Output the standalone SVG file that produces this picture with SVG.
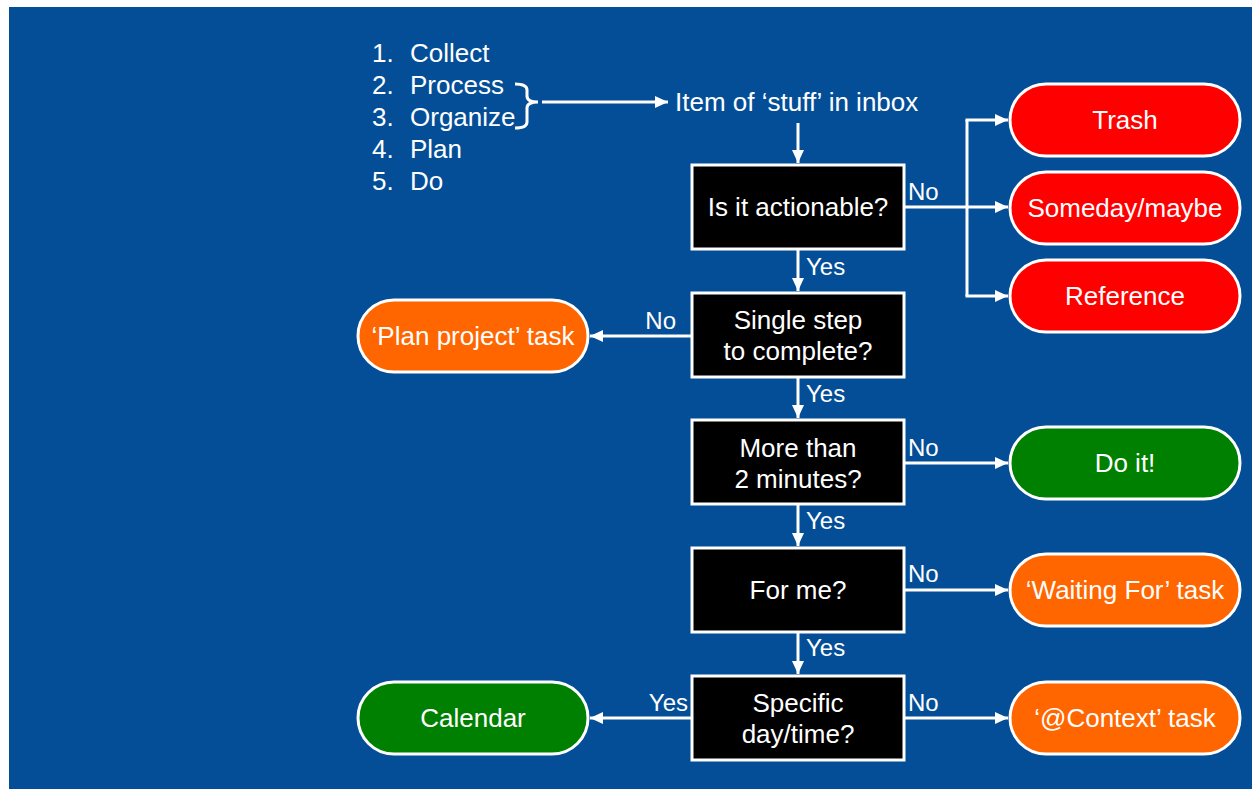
<svg xmlns="http://www.w3.org/2000/svg" width="1252" height="789" viewBox="0 0 1252 789">
<style>
text{font-family:"Liberation Sans",Arial,sans-serif;fill:#fff}
.n{font-size:26px;text-anchor:middle}
.l{font-size:24px}
.box{fill:#000;stroke:#fff;stroke-width:3}
.pill{stroke:#fff;stroke-width:3}
.red{fill:#ff0000}.green{fill:#008000}.orange{fill:#ff6600}
.c{fill:none;stroke:#fff;stroke-width:3}
</style>
<defs>
<marker id="ah" markerWidth="13" markerHeight="12" refX="13" refY="6" orient="auto" markerUnits="userSpaceOnUse">
<path d="M0,0 L13,6 L0,12 z" fill="#fff"/>
</marker>
</defs>
<rect x="0" y="0" width="1252" height="789" fill="#fff"/>
<rect x="9" y="7" width="1243" height="782" fill="#044e97"/>

<g id="steps">
<text class="l" x="372" y="62" style="font-size:26px">1.</text><text x="410" y="62" style="font-size:26px">Collect</text>
<text class="l" x="372" y="94" style="font-size:26px">2.</text><text x="410" y="94" style="font-size:26px">Process</text>
<text class="l" x="372" y="126" style="font-size:26px">3.</text><text x="410" y="126" style="font-size:26px">Organize</text>
<text class="l" x="372" y="158" style="font-size:26px">4.</text><text x="410" y="158" style="font-size:26px">Plan</text>
<text class="l" x="372" y="190" style="font-size:26px">5.</text><text x="410" y="190" style="font-size:26px">Do</text>
<path class="c" d="M515,84 Q527,84 527,90 L527,96 Q527,102 538,102 Q527,102 527,108 L527,122 Q527,128 515,128"/>
</g>

<g id="inbox"><text x="675" y="111" style="font-size:26px">Item of ‘stuff’ in inbox</text></g>

<g id="q1"><rect class="box" x="692" y="165" width="212" height="84"/><text class="n" x="798" y="216">Is it actionable?</text></g>
<g id="q2"><rect class="box" x="692" y="293" width="212" height="84"/><text class="n" x="798" y="329">Single step</text><text class="n" x="798" y="360">to complete?</text></g>
<g id="q3"><rect class="box" x="692" y="420" width="212" height="84"/><text class="n" x="798" y="457">More than</text><text class="n" x="798" y="488">2 minutes?</text></g>
<g id="q4"><rect class="box" x="692" y="548" width="212" height="84"/><text class="n" x="798" y="599">For me?</text></g>
<g id="q5"><rect class="box" x="692" y="676" width="212" height="84"/><text class="n" x="798" y="712">Specific</text><text class="n" x="798" y="743">day/time?</text></g>

<g id="trash"><rect class="pill red" x="1010" y="84" width="230" height="72" rx="36"/><text class="n" x="1125" y="129">Trash</text></g>
<g id="someday"><rect class="pill red" x="1010" y="172" width="230" height="72" rx="36"/><text class="n" x="1125" y="217">Someday/maybe</text></g>
<g id="reference"><rect class="pill red" x="1010" y="260" width="230" height="72" rx="36"/><text class="n" x="1125" y="305">Reference</text></g>
<g id="doit"><rect class="pill green" x="1010" y="427" width="230" height="72" rx="36"/><text class="n" x="1125" y="472">Do it!</text></g>
<g id="waiting"><rect class="pill orange" x="1010" y="554" width="230" height="72" rx="36"/><text class="n" x="1125" y="599">‘Waiting For’ task</text></g>
<g id="context"><rect class="pill orange" x="1010" y="682" width="230" height="72" rx="36"/><text class="n" x="1125" y="727">‘@Context’ task</text></g>
<g id="plan"><rect class="pill orange" x="358" y="300" width="230" height="72" rx="36"/><text class="n" x="473" y="345">‘Plan project’ task</text></g>
<g id="calendar"><rect class="pill green" x="358" y="682" width="230" height="72" rx="36"/><text class="n" x="473" y="727">Calendar</text></g>

<g id="connectors">
<line class="c" x1="542" y1="102" x2="668" y2="102" marker-end="url(#ah)"/>
<line class="c" x1="798" y1="123" x2="798" y2="163" marker-end="url(#ah)"/>
<line class="c" x1="904" y1="207" x2="1008" y2="207" marker-end="url(#ah)"/>
<path class="c" d="M967,296 L967,120"/>
<line class="c" x1="965.5" y1="120" x2="1008" y2="120" marker-end="url(#ah)"/>
<line class="c" x1="965.5" y1="296" x2="1008" y2="296" marker-end="url(#ah)"/>
<text class="l" x="908" y="200">No</text>
<line class="c" x1="798" y1="250" x2="798" y2="291" marker-end="url(#ah)"/>
<text class="l" x="806" y="275">Yes</text>
<line class="c" x1="692" y1="336" x2="590" y2="336" marker-end="url(#ah)"/>
<text class="l" x="676" y="329" text-anchor="end">No</text>
<line class="c" x1="798" y1="378" x2="798" y2="418" marker-end="url(#ah)"/>
<text class="l" x="806" y="402">Yes</text>
<line class="c" x1="904" y1="463" x2="1008" y2="463" marker-end="url(#ah)"/>
<text class="l" x="908" y="456">No</text>
<line class="c" x1="798" y1="505" x2="798" y2="546" marker-end="url(#ah)"/>
<text class="l" x="806" y="529">Yes</text>
<line class="c" x1="904" y1="590" x2="1008" y2="590" marker-end="url(#ah)"/>
<text class="l" x="908" y="582">No</text>
<line class="c" x1="798" y1="633" x2="798" y2="674" marker-end="url(#ah)"/>
<text class="l" x="806" y="656">Yes</text>
<line class="c" x1="904" y1="718" x2="1008" y2="718" marker-end="url(#ah)"/>
<text class="l" x="908" y="711">No</text>
<line class="c" x1="692" y1="718" x2="590" y2="718" marker-end="url(#ah)"/>
<text class="l" x="688" y="711" text-anchor="end">Yes</text>
</g>
</svg>
